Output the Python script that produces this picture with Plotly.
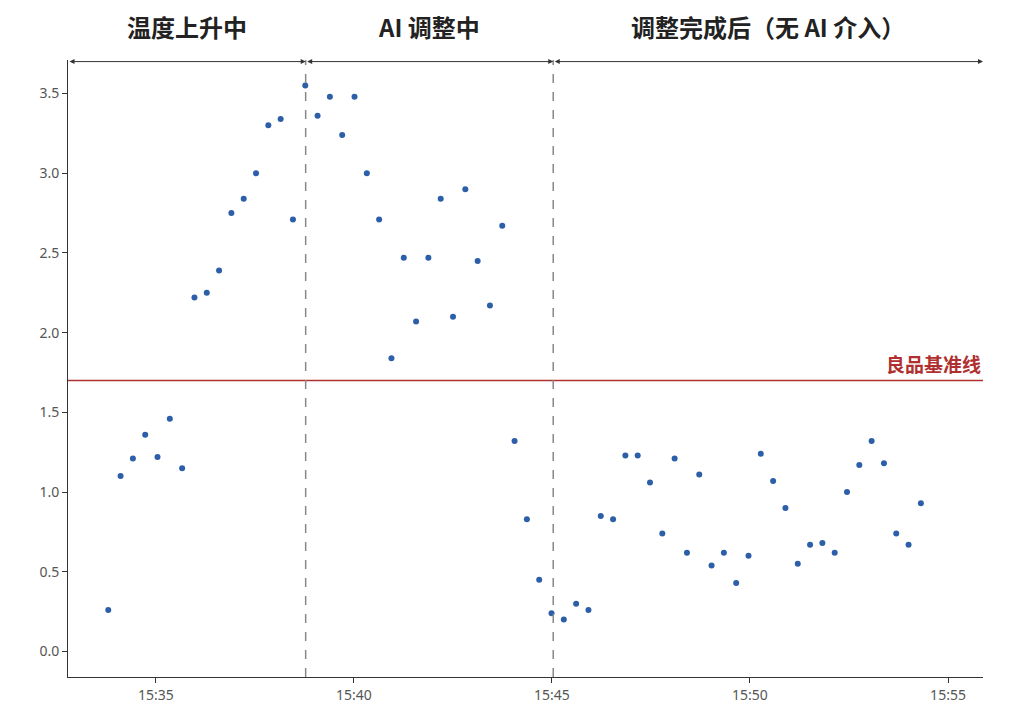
import plotly.graph_objects as go
import pandas as pd

start_time = "2024-01-01 15:33:48"
step_ms = 18650
values = [0.26, 1.10, 1.21, 1.36, 1.22, 1.46, 1.15, 2.22, 2.25, 2.39, 2.75, 2.84, 3.00, 3.30, 3.34,
          2.71, 3.55, 3.36, 3.48, 3.24, 3.48, 3.00, 2.71, 1.84, 2.47, 2.07, 2.47, 2.84, 2.10, 2.90,
          2.45, 2.17, 2.67, 1.32, 0.83, 0.45, 0.24, 0.20, 0.30, 0.26, 0.85, 0.83, 1.23, 1.23, 1.06,
          0.74, 1.21, 0.62, 1.11, 0.54, 0.62, 0.43, 0.60, 1.24, 1.07, 0.90, 0.55, 0.67, 0.68, 0.62,
          1.00, 1.17, 1.32, 1.18, 0.74, 0.67, 0.93]
phase_bounds = ["2024-01-01 15:32:47", "2024-01-01 15:38:47", "2024-01-01 15:45:02", "2024-01-01 15:55:53"]
phase_labels = ["温度上升中", "AI 调整中", "调整完成后（无 AI 介入）"]
baseline = 1.7
baseline_label = "良品基准线"
tick_vals = ["2024-01-01 15:35", "2024-01-01 15:40", "2024-01-01 15:45", "2024-01-01 15:50", "2024-01-01 15:55"]
tick_text = ["15:35", "15:40", "15:45", "15:50", "15:55"]

times = pd.date_range(start_time, periods=len(values), freq=f"{step_ms}ms")
bounds = pd.to_datetime(phase_bounds)

fig = go.Figure()
fig.add_trace(go.Scatter(x=times, y=values, mode="markers",
                         marker=dict(size=6, color="#2c5fa8"), showlegend=False))

fig.add_hline(y=baseline, line=dict(color="#b03030", width=1.5))
fig.add_annotation(x=1, xref="paper", y=baseline, yref="y", text="<b>" + baseline_label + "</b>",
                   showarrow=False, xanchor="right", yanchor="bottom", yshift=1,
                   font=dict(size=19, color="#b03030", family="Noto Sans CJK SC"))
for b in bounds[1:3]:
    fig.add_shape(type="line", x0=b, x1=b, y0=0, y1=1, xref="x", yref="paper",
                  line=dict(color="#888", width=1.5, dash="dash"))

ytop = 3.70
for i, lab in enumerate(phase_labels):
    a, b = bounds[i], bounds[i + 1]
    fig.add_annotation(x=b, y=ytop, ax=a, ay=ytop, xref="x", yref="y", axref="x", ayref="y",
                       text="", showarrow=True, arrowhead=2, startarrowhead=2, arrowside="end+start",
                       arrowwidth=1, arrowsize=1, startarrowsize=1, arrowcolor="#333")
    fig.add_annotation(x=a + (b - a) / 2, y=1, xref="x", yref="paper", yshift=14, text="<b>" + lab + "</b>",
                       showarrow=False, yanchor="bottom",
                       font=dict(size=24, color="#222", family="Noto Sans CJK SC"))

fig.update_layout(width=1032, height=720, plot_bgcolor="white", paper_bgcolor="white",
                  margin=dict(l=60, r=57, t=52, b=51),
                  font=dict(family="Noto Sans", size=14, color="#555"))
fig.update_xaxes(range=[bounds[0], bounds[3]], tickvals=pd.to_datetime(tick_vals), ticktext=tick_text,
                 showgrid=False, zeroline=False, showline=True, linecolor="#333", ticks="outside",
                 ticklen=5, tickcolor="#333")
fig.update_yaxes(range=[-0.16, 3.71], tickvals=[0, 0.5, 1, 1.5, 2, 2.5, 3, 3.5], tickformat=".1f",
                 showgrid=False, zeroline=False, showline=True, linecolor="#333", ticks="outside",
                 ticklen=5, tickcolor="#333")
fig.write_html("out.html")
